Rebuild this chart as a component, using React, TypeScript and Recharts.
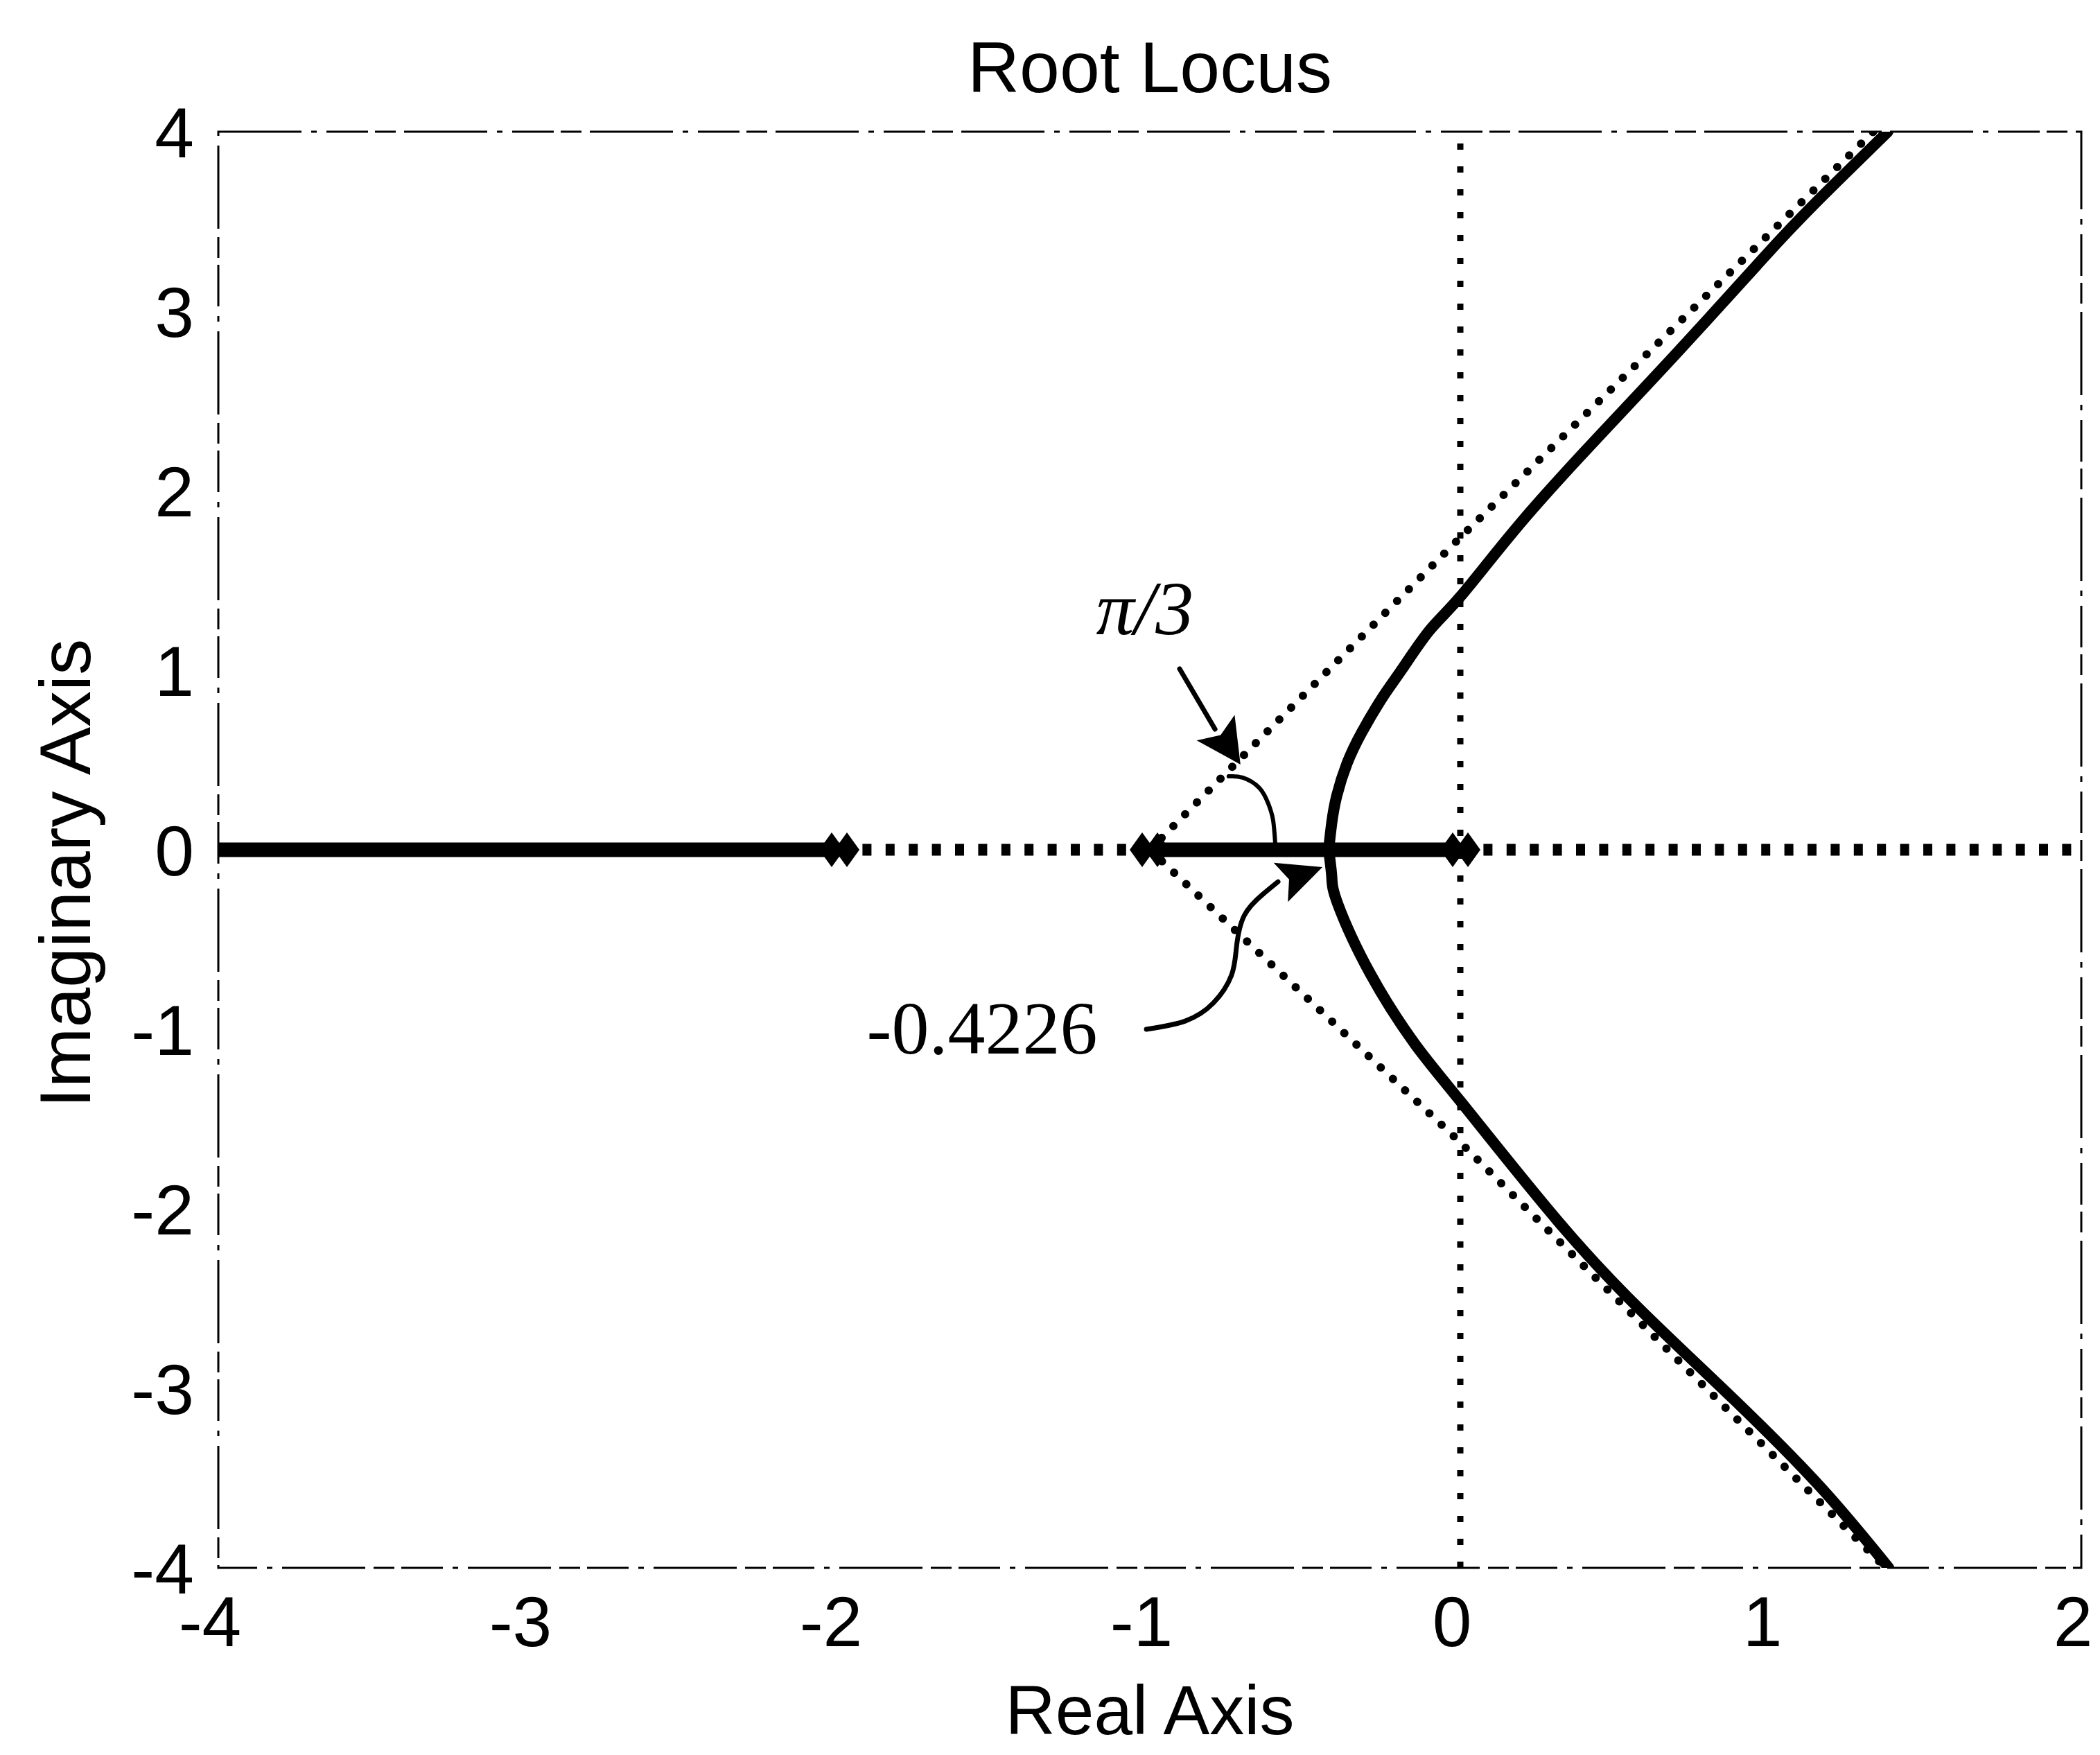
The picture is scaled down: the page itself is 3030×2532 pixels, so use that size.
import {
  ReferenceArea,
  Scatter,
  ScatterChart,
  XAxis,
  YAxis,
} from "recharts";

const xTicks = [-4, -3, -2, -1, 0, 1, 2];
const yTicks = [-4, -3, -2, -1, 0, 1, 2, 3, 4];

const poles = [
  { x: -2, y: 0 },
  { x: -1, y: 0 },
  { x: 0, y: 0 },
];

const locusRealLeft = [
  { x: -4, y: 0 },
  { x: -2, y: 0 },
];
const locusRealMid = [
  { x: -1, y: 0 },
  { x: 0, y: 0 },
];

const upperBranch = [
  { x: -0.424, y: 0 },
  { x: -0.414, y: 0.15 },
  { x: -0.398, y: 0.3 },
  { x: -0.365, y: 0.48 },
  { x: -0.317, y: 0.655 },
  { x: -0.25, y: 0.85 },
  { x: -0.19, y: 1.0 },
  { x: -0.1, y: 1.22 },
  { x: 0, y: 1.41 },
  { x: 0.194, y: 1.82 },
  { x: 0.45, y: 2.31 },
  { x: 0.736, y: 2.84 },
  { x: 1.02, y: 3.38 },
  { x: 1.2, y: 3.7 },
  { x: 1.377, y: 4.0 },
];

const lowerBranch = [
  { x: -0.424, y: 0 },
  { x: -0.414, y: -0.15 },
  { x: -0.395, y: -0.3 },
  { x: -0.29, y: -0.69 },
  { x: -0.147, y: -1.08 },
  { x: 0, y: -1.4 },
  { x: 0.31, y: -2.06 },
  { x: 0.59, y: -2.58 },
  { x: 0.88, y: -3.06 },
  { x: 1.16, y: -3.55 },
  { x: 1.38, y: -4.0 },
];

const asymptoteUp = [
  { x: -1, y: 0 },
  { x: 0, y: 1.74 },
  { x: 1.33, y: 4 },
];
const asymptoteDown = [
  { x: -1, y: 0 },
  { x: 0, y: -1.63 },
  { x: 1.37, y: -4 },
];

const realAxisDotsA = [
  { x: -2, y: 0 },
  { x: -1, y: 0 },
];
const realAxisDotsB = [
  { x: 0, y: 0 },
  { x: 2, y: 0 },
];
const imagAxisDots = [
  { x: 0, y: -4 },
  { x: 0, y: 4 },
];

// annotation: pi/3 arrow + angle arc
const piArrowShaft = [
  { x: -0.904, y: 1.008 },
  { x: -0.79, y: 0.672 },
];
const piArrowTip = [{ x: -0.708, y: 0.475 }];
const piArc = [
  { x: -0.746, y: 0.409 },
  { x: -0.701, y: 0.402 },
  { x: -0.647, y: 0.344 },
  { x: -0.618, y: 0.255 },
  { x: -0.603, y: 0.166 },
  { x: -0.596, y: 0.035 },
];
const piLabel = [{ x: -1.016, y: 1.2 }];

// annotation: breakaway -0.4226
const breakCurve = [
  { x: -1.011, y: -1.0 },
  { x: -0.886, y: -0.954 },
  { x: -0.795, y: -0.853 },
  { x: -0.737, y: -0.699 },
  { x: -0.721, y: -0.544 },
  { x: -0.696, y: -0.367 },
  { x: -0.638, y: -0.251 },
  { x: -0.587, y: -0.178 },
];
const breakArrowTip = [{ x: -0.444, y: -0.097 }];
const breakLabel = [{ x: -1.54, y: -1.135 }];

const SANS = '"Liberation Sans", Arial, sans-serif';
const SERIF = '"Liberation Serif", "Times New Roman", serif';

const NoDot = () => <g />;

const PoleMark = (props: any) => {
  const { cx, cy } = props;
  const d = (c: number) => `M${c - 18},${cy} L${c},${cy - 25} L${c + 18},${cy} L${c},${cy + 25} Z`;
  return (
    <g fill="#000">
      <path d={d(cx - 11)} />
      <path d={d(cx + 11)} />
    </g>
  );
};

const makeArrowHead = (angle: number, len: number, width: number) => (props: any) => {
  const { cx, cy } = props;
  return (
    <path
      transform={`translate(${cx},${cy}) rotate(${angle})`}
      d={`M0,0 L${-len},${-width / 2} L${-len * 0.8},0 L${-len},${width / 2} Z`}
      fill="#000"
    />
  );
};

const makeText = (text: string, size: number, italic: boolean) => (props: any) => (
  <text
    x={props.cx}
    y={props.cy}
    textAnchor="middle"
    fontFamily={SERIF}
    fontStyle={italic ? "italic" : "normal"}
    fontSize={size}
    fill="#000"
  >
    {text}
  </text>
);

const XTick = (props: any) => (
  <text
    x={props.x - 12}
    y={props.y}
    dy="0.72em"
    textAnchor="middle"
    fontFamily={SANS}
    fontSize={102}
    fill="#000"
  >
    {props.payload.value}
  </text>
);

const YTick = (props: any) => (
  <text
    x={props.x}
    y={props.y}
    dy="0.36em"
    textAnchor="end"
    fontFamily={SANS}
    fontSize={102}
    fill="#000"
  >
    {props.payload.value}
  </text>
);

const renderXLabel = (props: any) => {
  const vb = props.viewBox;
  return (
    <text x={vb.x + vb.width / 2} y={vb.y + 240} textAnchor="middle" fontFamily={SANS} fontSize={100} fill="#000">
      Real Axis
    </text>
  );
};

const renderYLabel = (props: any) => {
  const vb = props.viewBox;
  const cx = vb.x + 15;
  const cy = vb.y + vb.height / 2 + 34;
  return (
    <text
      transform={`translate(${cx},${cy}) rotate(-90)`}
      textAnchor="middle"
      fontFamily={SANS}
      fontSize={104}
      fill="#000"
    >
      Imaginary Axis
    </text>
  );
};

const lineOf = (width: number, dash?: string) => ({
  stroke: "#000",
  strokeWidth: width,
  strokeLinecap: "round" as const,
  strokeLinejoin: "round" as const,
  ...(dash ? { strokeDasharray: dash } : {}),
  fill: "none",
});

export default function App() {
  return (
    <div style={{ position: "absolute", left: 0, top: 0, background: "#fff" }}>
      <ScatterChart width={3030} height={2532} margin={{ top: 190, right: 27, bottom: 150, left: 115 }}>
        <XAxis
          type="number"
          dataKey="x"
          domain={[-4, 2]}
          ticks={xTicks}
          allowDataOverflow
          axisLine={false}
          tickLine={false}
          tickSize={0}
          tickMargin={40}
          height={120}
          tick={XTick}
          label={renderXLabel}
        />
        <YAxis
          type="number"
          dataKey="y"
          domain={[-4, 4]}
          ticks={yTicks}
          allowDataOverflow
          axisLine={false}
          tickLine={false}
          tickSize={0}
          tickMargin={35}
          width={200}
          tick={YTick}
          label={renderYLabel}
        />
        <ReferenceArea
          x1={-4}
          x2={2}
          y1={-4}
          y2={4}
          fill="none"
          fillOpacity={0}
          stroke="#000"
          strokeWidth={3}
          strokeDasharray="120 14 8 14 60 10 30 12"
          label={{ value: "Root Locus", position: "top", offset: 57, fontSize: 104, fontFamily: SANS, fill: "#000" }}
        />

        {/* dotted axes through the poles */}
        <Scatter data={imagAxisDots} shape={NoDot} line={{ ...lineOf(9, "9 24"), strokeLinecap: "butt" }} lineType="joint" isAnimationActive={false} />
        <Scatter data={realAxisDotsA} shape={NoDot} line={{ ...lineOf(17, "13 20.4"), strokeLinecap: "butt" }} lineType="joint" isAnimationActive={false} />
        <Scatter data={realAxisDotsB} shape={NoDot} line={{ ...lineOf(17, "13 20.4"), strokeLinecap: "butt" }} lineType="joint" isAnimationActive={false} />

        {/* asymptotes */}
        <Scatter data={asymptoteUp} shape={NoDot} line={lineOf(12, "0.1 24")} lineType="joint" isAnimationActive={false} />
        <Scatter data={asymptoteDown} shape={NoDot} line={lineOf(12, "0.1 24")} lineType="joint" isAnimationActive={false} />

        {/* root locus */}
        <Scatter data={locusRealLeft} shape={NoDot} line={{ ...lineOf(21), strokeLinecap: "butt" }} lineType="joint" isAnimationActive={false} />
        <Scatter data={locusRealMid} shape={NoDot} line={{ ...lineOf(21), strokeLinecap: "butt" }} lineType="joint" isAnimationActive={false} />
        <Scatter data={upperBranch} shape={NoDot} line={lineOf(16)} lineType="joint" lineJointType="natural" isAnimationActive={false} />
        <Scatter data={lowerBranch} shape={NoDot} line={lineOf(16)} lineType="joint" lineJointType="natural" isAnimationActive={false} />
        <Scatter data={poles} shape={PoleMark} isAnimationActive={false} />

        {/* annotations */}
        <Scatter data={piArrowShaft} shape={NoDot} line={lineOf(7)} lineType="joint" isAnimationActive={false} />
        <Scatter data={piArrowTip} shape={makeArrowHead(56, 64, 66)} isAnimationActive={false} />
        <Scatter data={piArc} shape={NoDot} line={lineOf(6)} lineType="joint" lineJointType="natural" isAnimationActive={false} />
        <Scatter data={piLabel} shape={makeText("\u03c0/3", 110, true)} isAnimationActive={false} />
        <Scatter data={breakCurve} shape={NoDot} line={lineOf(7)} lineType="joint" lineJointType="natural" isAnimationActive={false} />
        <Scatter data={breakArrowTip} shape={makeArrowHead(-20, 64, 60)} isAnimationActive={false} />
        <Scatter data={breakLabel} shape={makeText("-0.4226", 108, false)} isAnimationActive={false} />
      </ScatterChart>
    </div>
  );
}
